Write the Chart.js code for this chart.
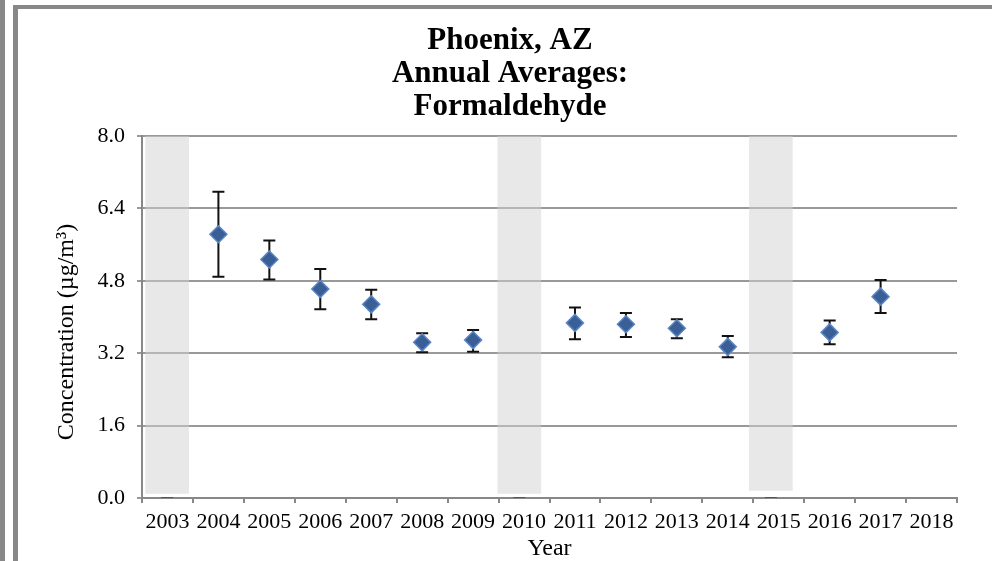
<!DOCTYPE html>
<html>
<head>
<meta charset="utf-8">
<script src="https://cdn.jsdelivr.net/npm/chart.js@4"></script>
<style>
  html, body { margin: 0; padding: 0; background: #fff; overflow: hidden; width: 992px; height: 561px; }
  #strip { position: absolute; left: 0; top: 0; width: 5px; height: 561px; background: #888; }
  #frame { position: absolute; left: 13px; top: 5px; width: 990px; height: 560px; border-left: 5px solid #888; border-top: 4px solid #888; }
  #wrap { position: absolute; left: 18px; top: 9px; width: 984px; height: 552px; }
</style>
</head>
<body>
<div id="strip"></div>
<div id="frame"></div>
<div id="wrap"><canvas id="chart"></canvas></div>
<script>
// Data
const years = ['2003', '2004', '2005', '2006', '2007', '2008', '2009', '2010',
               '2011', '2012', '2013', '2014', '2015', '2016', '2017', '2018'];
const means = [null, 5.83, 5.27, 4.62, 4.28, 3.44, 3.49, null, 3.87, 3.84, 3.75, 3.34, null, 3.66, 4.45, null];
const lows  = [null, 4.89, 4.83, 4.17, 3.95, 3.22, 3.23, null, 3.51, 3.56, 3.53, 3.11, null, 3.40, 4.09, null];
const highs = [null, 6.77, 5.69, 5.06, 4.60, 3.64, 3.71, null, 4.21, 4.09, 3.95, 3.58, null, 3.92, 4.82, null];
// shaded years without data
const shadeBottom = [0.1, null, null, null, null, null, null, 0.1, null, null, null, null, 0.17, null, null, null];
const shadeTop    = [8.0, null, null, null, null, null, null, 8.0, null, null, null, null, 8.0, null, null, null];
const zeroMarks   = [0, null, null, null, null, null, null, 0, null, null, null, null, 0, null, null, null];
const yTicks = [0, 1.6, 3.2, 4.8, 6.4, 8.0];

const serif = "'Liberation Serif', 'Times New Roman', serif";

// error bars drawn under the diamonds
const errorBars = {
    id: 'errorBars',
    beforeDatasetsDraw(chart) {
        const ctx = chart.ctx;
        const x = chart.scales.x;
        const y = chart.scales.y;
        ctx.save();
        ctx.strokeStyle = '#111';
        ctx.lineWidth = 2;
        years.forEach((yr, i) => {
            if (lows[i] == null) return;
            const px = x.getPixelForValue(i);
            const top = y.getPixelForValue(highs[i]);
            const bot = y.getPixelForValue(lows[i]);
            ctx.beginPath();
            ctx.moveTo(px, top); ctx.lineTo(px, bot);
            ctx.moveTo(px - 6, top); ctx.lineTo(px + 6, top);
            ctx.moveTo(px - 6, bot); ctx.lineTo(px + 6, bot);
            ctx.stroke();
        });
        ctx.restore();
    }
};

const shadeData = [];
const zeroData = [];
years.forEach((yr, i) => {
    if (shadeTop[i] != null) shadeData.push({ x: i, y: [shadeBottom[i], shadeTop[i]] });
    if (zeroMarks[i] != null) zeroData.push({ x: i, y: zeroMarks[i] });
});

new Chart(document.getElementById('chart'), {
    type: 'bar',
    data: {
        labels: years,
        datasets: [{
            type: 'line',
            data: means,
            showLine: false,
            pointStyle: 'rectRot',
            pointRadius: 8.5,
            pointBackgroundColor: '#3a5f96',
            pointBorderColor: '#5a86c5',
            pointBorderWidth: 1.5,
            order: 0
        }, {
            type: 'line',
            xAxisID: 'x2',
            data: zeroData,
            showLine: false,
            pointStyle: 'line',
            pointRadius: 6,
            pointBorderColor: '#555',
            pointBorderWidth: 2,
            order: 1
        }, {
            xAxisID: 'x2',
            data: shadeData,
            backgroundColor: 'rgba(210, 210, 210, 0.5)',
            barThickness: 43,
            grouped: false,
            order: 2
        }]
    },
    options: {
        responsive: true,
        maintainAspectRatio: false,
        animation: false,
        layout: { padding: 0 },
        plugins: {
            legend: { display: false },
            tooltip: { enabled: false },
            title: {
                display: true,
                text: ['Phoenix, AZ', 'Annual Averages:', 'Formaldehyde'],
                color: '#000',
                font: { family: serif, size: 31, weight: 'bold', lineHeight: 33 / 31 },
                padding: { top: 15, bottom: 13 }
            }
        },
        scales: {
            x: {
                offset: true,
                grid: { offset: true, drawOnChartArea: false, drawTicks: true, tickLength: 5, color: '#888', lineWidth: 2 },
                border: { display: true, color: '#888', width: 2 },
                ticks: { color: '#000', font: { family: serif, size: 22 }, padding: 6, maxRotation: 0, autoSkip: false },
                title: {
                    display: true, text: 'Year', color: '#000',
                    font: { family: serif, size: 24, lineHeight: 1 },
                    padding: { top: 1, bottom: 0 }
                },
                afterFit(scale) { scale.height = 63; }
            },
            // secondary axis for the shaded no-data columns
            x2: {
                type: 'linear',
                display: false,
                offset: false,
                min: -0.5,
                max: 15.7
            },
            y: {
                min: 0,
                max: 8,
                afterBuildTicks(scale) { scale.ticks = yTicks.map(v => ({ value: v })); },
                grid: { color: '#999', lineWidth: 2, tickLength: 5 },
                border: { display: true, color: '#888', width: 2 },
                ticks: { color: '#000', font: { family: serif, size: 22 }, padding: 12, callback: v => v.toFixed(1) },
                title: {
                    display: true, text: 'Concentration (µg/m³)     ', color: '#000',
                    font: { family: serif, size: 24, lineHeight: 1 },
                    padding: { top: 37, bottom: 0 }
                },
                afterFit(scale) { scale.width = 124; }
            },
            // empty right margin so the title centres over the whole frame
            yRight: {
                position: 'right',
                display: true,
                grid: { display: false },
                border: { display: false },
                ticks: { display: false },
                afterFit(scale) { scale.width = 45; }
            }
        }
    },
    plugins: [errorBars]
});
</script>
</body>
</html>
